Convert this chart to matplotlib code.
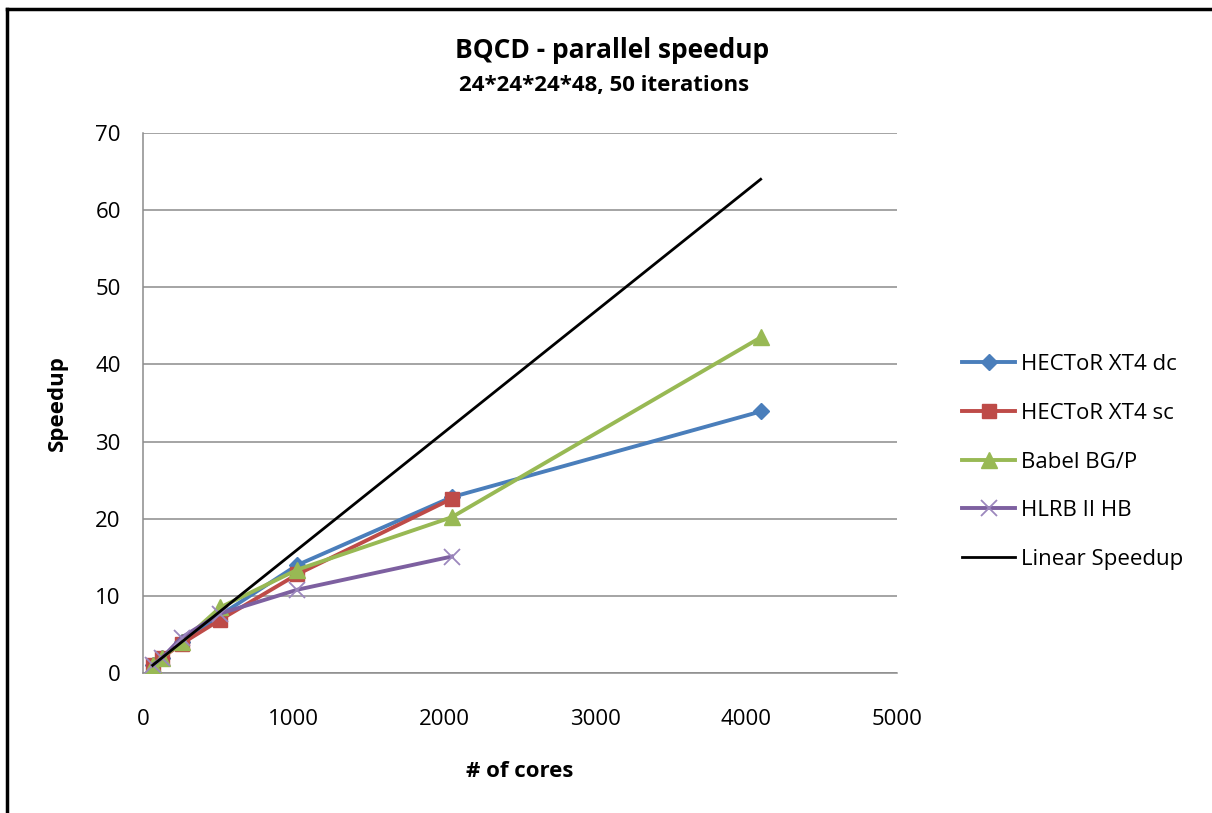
import matplotlib
matplotlib.use("Agg")
import matplotlib.pyplot as plt
from matplotlib.lines import Line2D

plt.rcParams['font.family'] = ['Open Sans', 'DejaVu Sans']

# Core counts and measured speedups (relative to 64 cores)
cores = [64, 128, 256, 512, 1024, 2048, 4096]
hector_dc = [1.0, 2.0, 4.0, 7.5, 14.0, 22.8, 33.9]
hector_sc = [1.0, 2.0, 3.8, 6.9, 12.8, 22.6]
babel_bgp = [1.0, 2.0, 4.0, 8.5, 13.4, 20.2, 43.5]
hlrb_cores = [64, 128, 256, 512, 1024, 2048]
hlrb_hb = [1.0, 2.0, 4.6, 7.7, 10.8, 15.1]
linear = [1, 2, 4, 8, 16, 32, 64]

series_labels = ["HECToR XT4 dc", "HECToR XT4 sc", "Babel BG/P", "HLRB II HB", "Linear Speedup"]
x_ticks = [0, 1000, 2000, 3000, 4000, 5000]
y_ticks = [0, 10, 20, 30, 40, 50, 60, 70]

blue = "#4A7EBB"
red = "#BE4B48"
green = "#98B954"
purple = "#7D60A0"

fig = plt.figure(figsize=(12.12, 8.13), dpi=100)
ax = fig.add_axes([143 / 1212, 1 - 673 / 813, (897 - 143) / 1212, (673 - 133) / 813])

lw = 2.8
ax.plot(cores, hector_dc, color=blue, lw=lw, marker="D", ms=8, label=series_labels[0], zorder=3)
ax.plot(cores[:6], hector_sc, color=red, lw=lw, marker="s", ms=10, label=series_labels[1], zorder=3)
ax.plot(cores, babel_bgp, color=green, lw=lw, marker="^", ms=11, label=series_labels[2], zorder=3)
ax.plot(hlrb_cores, hlrb_hb, color=purple, lw=lw, marker="x", ms=11, mew=1.3,
        mec="#9C87BD", label=series_labels[3], zorder=3)
ax.plot(cores, linear, color="black", lw=2.0, label=series_labels[4], zorder=4)

ax.set_xlim(0, 5000)
ax.set_ylim(0, 70)
ax.set_xticks(x_ticks)
ax.set_yticks(y_ticks)
ax.tick_params(axis="x", length=0, labelsize=16, pad=26)
ax.tick_params(axis="y", length=0, labelsize=16, pad=16)
ax.grid(axis="y", color="#8c8c8c", lw=1.1)
ax.set_axisbelow(True)
for side in ("top", "right"):
    ax.spines[side].set_visible(False)
for side in ("left", "bottom"):
    ax.spines[side].set_color("#8c8c8c")
    ax.spines[side].set_linewidth(1.1)

ax.set_xlabel("# of cores", fontsize=16, fontweight="bold", labelpad=22)
ax.set_ylabel("Speedup", fontsize=16, fontweight="bold", labelpad=20)

fig.text(612 / 1212, 1 - 50 / 813, "BQCD - parallel speedup", ha="center", va="center",
         fontsize=19, fontweight="bold")
fig.text(604 / 1212, 1 - 86 / 813, "24*24*24*48, 50 iterations", ha="center", va="center",
         fontsize=16, fontweight="bold")

leg = fig.legend(loc="center left", bbox_to_anchor=(953 / 1212, 1 - 462 / 813),
                 frameon=False, fontsize=16, handlelength=2.4, handletextpad=0.25,
                 labelspacing=1.25, borderaxespad=0)

# Frame lines along the left and top edges of the figure
fig.add_artist(Line2D([7 / 1212, 7 / 1212], [0, 1 - 9 / 813], color="black", lw=2.5,
                      transform=fig.transFigure))
fig.add_artist(Line2D([7 / 1212, 1], [1 - 9 / 813, 1 - 9 / 813], color="black", lw=2.5,
                      transform=fig.transFigure))

fig.savefig("out.png", dpi=100)
